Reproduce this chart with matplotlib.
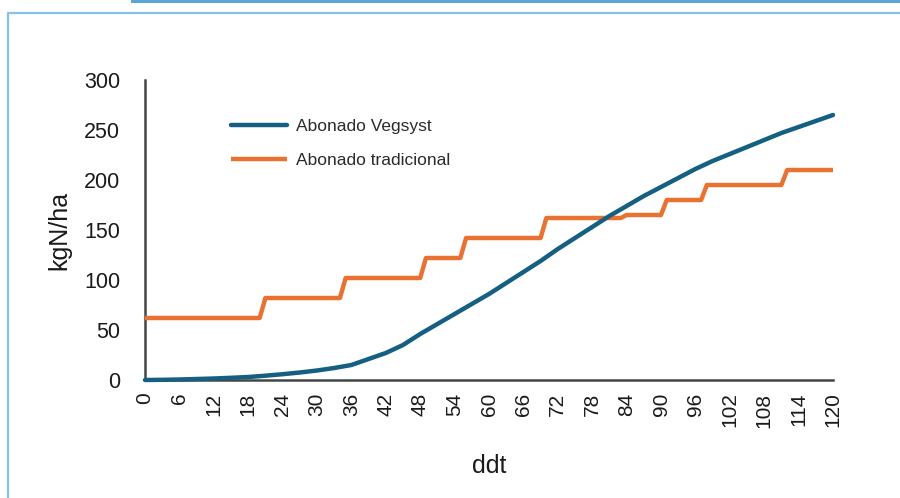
import matplotlib
matplotlib.use("Agg")
import matplotlib.pyplot as plt
from matplotlib.lines import Line2D

plt.rcParams['font.family'] = ['Liberation Sans', 'DejaVu Sans']

# Days after transplant (ddt) and cumulative N (kgN/ha)
vegsyst_days = [0, 3, 6, 9, 12, 15, 18, 21, 24, 27, 30, 33, 36, 39, 42, 45, 48, 51, 54,
                57, 60, 63, 66, 69, 72, 75, 78, 81, 84, 87, 90, 93, 96, 99, 102, 105,
                108, 111, 114, 117, 120]
vegsyst_vals = [0, 0.2, 0.5, 1, 1.5, 2.2, 3, 4.3, 5.8, 7.5, 9.5, 12, 15, 21, 27, 35, 46,
                56, 66, 76, 86, 97, 108, 119, 131, 142, 153, 164, 174, 184, 193, 202,
                211, 219, 226, 233, 240, 247, 253, 259, 265]

trad_days = [0, 20, 21, 34, 35, 48, 49, 55, 56, 69, 70, 83, 84, 90, 91, 97, 98, 111, 112, 120]
trad_vals = [62, 62, 82, 82, 102, 102, 122, 122, 142, 142, 162, 162, 165, 165, 180, 180,
             195, 195, 210, 210]

x_ticks = list(range(0, 121, 6))
y_ticks = [0, 50, 100, 150, 200, 250, 300]

series_names = ["Abonado Vegsyst", "Abonado tradicional"]
blue = "#156082"
orange = "#E97132"

W, H = 900, 498
fig = plt.figure(figsize=(W / 100, H / 100), dpi=100)

# decorative frame
fig.patches.append(plt.Rectangle((131 / W, 1 - 3 / H), 1, 3 / H, transform=fig.transFigure,
                                 color="#5BA6D7", lw=0))
fig.lines.append(Line2D([8 / W, 8 / W, 1], [0, 1 - 13 / H, 1 - 13 / H], transform=fig.transFigure,
                        color="#86C1E7", lw=1.6))

ax = fig.add_axes([145 / W, 1 - 380 / H, (833 - 145) / W, 300 / H])
ax.plot(vegsyst_days, vegsyst_vals, color=blue, lw=3.2, label=series_names[0],
        clip_on=False, solid_capstyle='round', zorder=4)
ax.plot(trad_days, trad_vals, color=orange, lw=3.2, label=series_names[1],
        clip_on=False, solid_capstyle='butt', zorder=3)

ax.set_xlim(0, 120)
ax.set_ylim(0, 300)
ax.set_xticks(x_ticks)
ax.set_xticklabels([str(t) for t in x_ticks], rotation=90, fontsize=15)
ax.set_yticks(y_ticks)
ax.set_yticklabels([str(t) for t in y_ticks], fontsize=15.5)
ax.tick_params(axis='x', length=0, pad=9, colors='#1a1a1a')
ax.tick_params(axis='y', length=0, pad=18, colors='#1a1a1a')

for s in ['top', 'right']:
    ax.spines[s].set_visible(False)
for s in ['left', 'bottom']:
    ax.spines[s].set_color('#454545')
    ax.spines[s].set_linewidth(1.8)

ax.set_xlabel("ddt", fontsize=18, color='#1a1a1a', labelpad=19)
ax.set_ylabel("kgN/ha", fontsize=18, color='#1a1a1a', labelpad=9)

leg = ax.legend(loc='upper left', bbox_to_anchor=(231 / W, 1 - 119 / H),
                bbox_transform=fig.transFigure, frameon=False, fontsize=12.5,
                handlelength=3.2, handletextpad=0.55, labelspacing=1.1,
                borderpad=0, borderaxespad=0)
for t in leg.get_texts():
    t.set_color('#2b2b2b')

fig.savefig("out.png", dpi=100)
